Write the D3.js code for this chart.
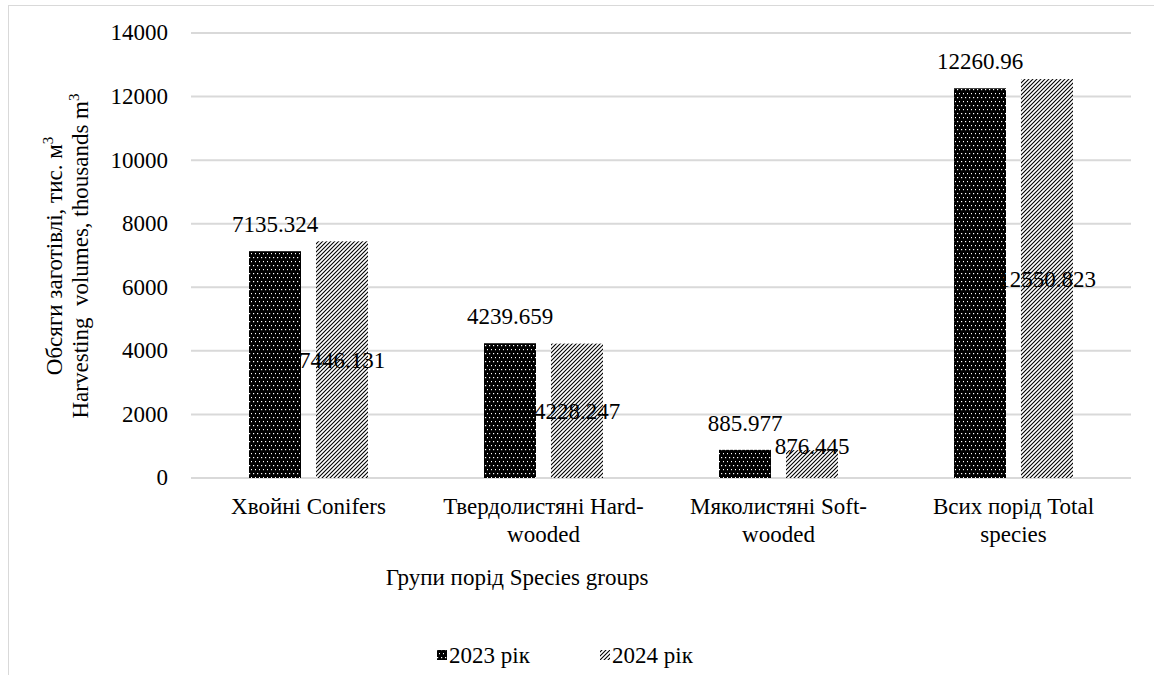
<!DOCTYPE html>
<html><head><meta charset="utf-8">
<script src="https://cdn.jsdelivr.net/npm/d3@7"></script>
</head><body style="margin:0"><svg id="c" width="1154" height="675"></svg>
<script>
const categories = [["Хвойні Conifers"], ["Твердолистяні Hard-", "wooded"], ["Мяколистяні Soft-", "wooded"], ["Всих порід Total", "species"]];
const seriesNames = ["2023 рік", "2024 рік"];
const values2023 = [7135.324, 4239.659, 885.977, 12260.96];
const values2024 = [7446.131, 4228.247, 876.445, 12550.823];
const labels2023 = ["7135.324", "4239.659", "885.977", "12260.96"];
const labels2024 = ["7446.131", "4228.247", "876.445", "12550.823"];
const yTicks = [0, 2000, 4000, 6000, 8000, 10000, 12000, 14000];

const FF = "Liberation Serif";
const svg = d3.select("#c");
const fs = 23;
const m = {l:191, r:1131, t:33, b:478};
const defs = svg.append("defs");
const pd = defs.append("pattern").attr("id","dots").attr("patternUnits","userSpaceOnUse").attr("width",4).attr("height",8);
pd.append("rect").attr("width",4).attr("height",8).attr("fill","#000");
pd.append("rect").attr("x",1).attr("y",1).attr("width",1.2).attr("height",1.2).attr("fill","#fff");
pd.append("rect").attr("x",3).attr("y",5).attr("width",1.2).attr("height",1.2).attr("fill","#fff");
const ph = defs.append("pattern").attr("id","hatch").attr("patternUnits","userSpaceOnUse").attr("width",4).attr("height",4);
ph.append("rect").attr("width",4).attr("height",4).attr("fill","#fff");
ph.append("path").attr("d","M-1,1 l2,-2 M0,4 l4,-4 M3,5 l2,-2").attr("stroke","#000").attr("stroke-width",1.1);

svg.append("rect").attr("x",8.5).attr("y",5.5).attr("width",1160).attr("height",700).attr("fill","none").attr("stroke","#d9d9d9");

const x = d3.scaleBand().domain(d3.range(categories.length)).range([m.l,m.r]);
const y = d3.scaleLinear().domain([0,14000]).range([m.b,m.t]);
const barW = 52, gap = 15;

// gridlines
svg.append("g").selectAll("line").data(yTicks).join("line")
  .attr("x1",m.l).attr("x2",m.r).attr("y1",d=>y(d)).attr("y2",d=>y(d))
  .attr("stroke","#d9d9d9").attr("stroke-width",2);

function txt(parent){ return parent.append("text").attr("font-family",FF).attr("font-size",fs); }

// tick labels
yTicks.forEach(t=>{
  txt(svg).attr("x",m.l-23).attr("y",y(t)).attr("dy","0.32em").attr("text-anchor","end").text(d3.format("d")(t));
});

const data = [values2023, values2024];
const fills = ["url(#dots)","url(#hatch)"];
data.forEach((vals,si)=>{
  const off = si===0 ? -gap/2-barW : gap/2;
  svg.append("g").selectAll("rect").data(vals).join("rect")
    .attr("x",(d,i)=>x(i)+x.bandwidth()/2+off)
    .attr("y",d=>y(d)).attr("width",barW).attr("height",d=>y(0)-y(d))
    .attr("fill",fills[si]);
});
values2023.forEach((d,i)=>{
  txt(svg).attr("x",x(i)+x.bandwidth()/2-gap/2-barW/2).attr("y",y(d)-19).attr("text-anchor","middle").text(labels2023[i]);
});
values2024.forEach((d,i)=>{
  txt(svg).attr("x",x(i)+x.bandwidth()/2+gap/2+barW/2)
    .attr("y",(y(0)-y(d) < 50) ? y(d)-4 : y(d/2)).attr("dy","0.35em").attr("text-anchor","middle").text(labels2024[i]);
});

categories.forEach((lines,i)=>{
  const t = txt(svg).attr("x",x(i)+x.bandwidth()/2).attr("y",514).attr("text-anchor","middle");
  lines.forEach((l,j)=>t.append("tspan").attr("x",x(i)+x.bandwidth()/2).attr("dy",j?28:0).text(l));
});
txt(svg).attr("x",517).attr("y",585).attr("text-anchor","middle").text("Групи порід Species groups");

const yt = txt(svg).attr("transform","translate(0,256) rotate(-90)").attr("text-anchor","middle");
const l1 = yt.append("tspan").attr("x",0).attr("y",62);
l1.append("tspan").text("Обсяги заготівлі, тис. м");
l1.append("tspan").attr("dy",-9).attr("font-size",15).text("3");
const l2 = yt.append("tspan").attr("x",0).attr("y",88);
l2.append("tspan").text("Harvesting\u00a0 volumes, thousands m");
l2.append("tspan").attr("dy",-9).attr("font-size",15).text("3");

const legX = [437, 600];
seriesNames.forEach((n,i)=>{
  svg.append("rect").attr("x",legX[i]).attr("y",650).attr("width",10).attr("height",10).attr("fill",fills[i]);
  txt(svg).attr("x",legX[i]+12).attr("y",663).text(n);
});
</script></body></html>
